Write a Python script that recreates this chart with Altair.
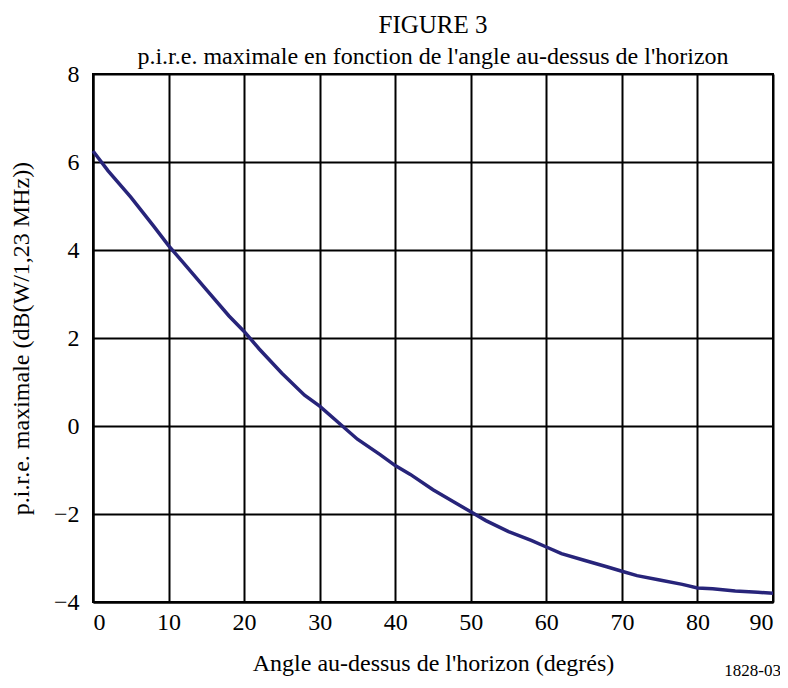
import altair as alt
import pandas as pd

angle = [0, 2, 5, 8, 10, 12, 15, 18, 20, 22, 25, 28, 30, 33, 35, 38, 40, 42, 45, 48, 50, 52, 55, 58, 60, 62, 65, 68, 70, 72, 75, 78, 80, 82, 85, 88, 90]
eirp = [6.25, 5.8, 5.2, 4.55, 4.1, 3.7, 3.1, 2.5, 2.15, 1.75, 1.2, 0.7, 0.45, 0.0, -0.3, -0.65, -0.9, -1.1, -1.45, -1.75, -1.95, -2.15, -2.4, -2.6, -2.75, -2.9, -3.05, -3.2, -3.3, -3.4, -3.5, -3.6, -3.68, -3.7, -3.75, -3.78, -3.8]

df = pd.DataFrame({"angle": angle, "eirp": eirp})

FONT = "Liberation Serif"

axis_style = dict(
    grid=True, gridColor="black", gridWidth=2, gridOpacity=1,
    domain=True, domainColor="black", domainWidth=2, ticks=False,
    labelFont=FONT, labelFontSize=24, labelColor="black",
    titleFont=FONT, titleFontSize=24, titleFontWeight="normal", titleColor="black",
)

line = alt.Chart(df).mark_line(color="#27247a", strokeWidth=3.5).encode(
    x=alt.X("angle:Q", scale=alt.Scale(domain=[0, 90], nice=False),
            axis=alt.Axis(values=list(range(0, 91, 10)), title="Angle au-dessus de l'horizon (degrés)",
                          titlePadding=17, labelPadding=8, **axis_style)),
    y=alt.Y("eirp:Q", scale=alt.Scale(domain=[-4, 8], nice=False),
            axis=alt.Axis(values=list(range(-4, 9, 2)), title="p.i.r.e. maximale (dB(W/1,23 MHz))",
                          titlePadding=20, labelPadding=14,
                          labelExpr="replace(datum.label, '-', '−')", **axis_style)),
)

note = alt.Chart(pd.DataFrame({"t": ["1828-03"]})).mark_text(
    font=FONT, fontSize=17, align="right", baseline="bottom", color="black"
).encode(text="t:N", x=alt.value(688), y=alt.value(606))

chart = (line + note).properties(
    width=680, height=528,
    autosize="none",
    padding={"left": 85, "top": 66, "right": 7, "bottom": 78},
    title=alt.TitleParams(
        text="FIGURE 3",
        subtitle="p.i.r.e. maximale en fonction de l'angle au-dessus de l'horizon",
        font=FONT, fontSize=25, fontWeight="normal", color="black",
        subtitleFont=FONT, subtitleFontSize=24, subtitleColor="black",
        subtitlePadding=7, anchor="middle", offset=-7,
    ),
).configure_view(stroke="black", strokeWidth=2)

chart.save("out.html", embed_options={"renderer": "svg", "actions": False})
